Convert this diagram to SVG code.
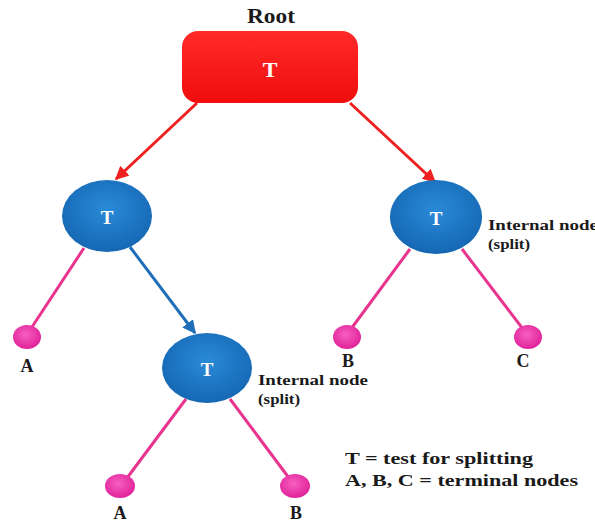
<svg xmlns="http://www.w3.org/2000/svg" width="595" height="522" viewBox="0 0 595 522">
<defs>
<radialGradient id="gBlue" cx="50%" cy="40%" r="60%">
<stop offset="0" stop-color="#2a8ad8"/><stop offset="1" stop-color="#1567b3"/>
</radialGradient>
<radialGradient id="gPink" cx="45%" cy="40%" r="60%">
<stop offset="0" stop-color="#f75fbf"/><stop offset="1" stop-color="#e0229a"/>
</radialGradient>
<linearGradient id="gRed" x1="0" y1="0" x2="0" y2="1">
<stop offset="0" stop-color="#ff2a2a"/><stop offset="1" stop-color="#f00d0d"/>
</linearGradient>
<marker id="arrRed" viewBox="0 0 10 10" refX="9" refY="5" markerWidth="4.5" markerHeight="4.5" orient="auto">
<path d="M0,0 L10,5 L0,10 z" fill="#ee2020"/>
</marker>
<marker id="arrBlue" viewBox="0 0 10 10" refX="9" refY="5" markerWidth="4.5" markerHeight="4.5" orient="auto">
<path d="M0,0 L10,5 L0,10 z" fill="#1f6fb8"/>
</marker>
</defs>
<style>
.lbl{font-family:"Liberation Serif",serif;font-weight:bold;fill:#1a1a1a}
.t{font-family:"Liberation Serif",serif;font-weight:bold;fill:#ffffff;text-anchor:middle}
.pink{stroke:#e8338f;stroke-width:3;fill:none}
.red{stroke:#ee2020;stroke-width:3;fill:none;marker-end:url(#arrRed)}
.blue{stroke:#1f6fb8;stroke-width:3;fill:none;marker-end:url(#arrBlue)}
.node{fill:url(#gBlue)}
.leaf{fill:url(#gPink)}
</style>
<g id="connectors">
<line class="red" x1="197" y1="103" x2="116" y2="179"/>
<line class="red" x1="350" y1="103" x2="435" y2="182"/>
<line class="blue" x1="130" y1="247" x2="195" y2="333"/>
<line class="pink" x1="84" y1="248" x2="30" y2="330"/>
<line class="pink" x1="410" y1="249" x2="348" y2="333"/>
<line class="pink" x1="462" y1="249" x2="526" y2="333"/>
<line class="pink" x1="186" y1="399" x2="124" y2="482"/>
<line class="pink" x1="230" y1="399" x2="292" y2="482"/>
</g>
<g id="root">
<text class="lbl" x="247" y="23" font-size="21" textLength="48" lengthAdjust="spacingAndGlyphs">Root</text>
<rect x="182" y="31" width="176" height="72" rx="16" fill="url(#gRed)"/>
<text class="t" x="270" y="77" font-size="22">T</text>
</g>
<g id="node-left">
<ellipse class="node" cx="107" cy="216" rx="45" ry="36"/>
<text class="t" x="107" y="224" font-size="19">T</text>
</g>
<g id="node-right">
<ellipse class="node" cx="436" cy="217" rx="46" ry="37"/>
<text class="t" x="436" y="225" font-size="19">T</text>
<text class="lbl" x="488" y="230" font-size="15" textLength="110" lengthAdjust="spacingAndGlyphs">Internal node</text>
<text class="lbl" x="488" y="249" font-size="15" textLength="42" lengthAdjust="spacingAndGlyphs">(split)</text>
</g>
<g id="node-mid">
<ellipse class="node" cx="207" cy="368" rx="45" ry="35"/>
<text class="t" x="207" y="376" font-size="19">T</text>
<text class="lbl" x="258" y="385" font-size="15" textLength="110" lengthAdjust="spacingAndGlyphs">Internal node</text>
<text class="lbl" x="258" y="404" font-size="15" textLength="42" lengthAdjust="spacingAndGlyphs">(split)</text>
</g>
<g id="leaf-a1">
<ellipse class="leaf" cx="27" cy="337" rx="14" ry="12"/>
<text class="lbl" x="27" y="372" font-size="18" text-anchor="middle">A</text>
</g>
<g id="leaf-b1">
<ellipse class="leaf" cx="347" cy="337" rx="14" ry="12"/>
<text class="lbl" x="348" y="367" font-size="18" text-anchor="middle">B</text>
</g>
<g id="leaf-c">
<ellipse class="leaf" cx="528" cy="337" rx="14" ry="12"/>
<text class="lbl" x="523" y="367" font-size="18" text-anchor="middle">C</text>
</g>
<g id="leaf-a2">
<ellipse class="leaf" cx="120" cy="486" rx="15" ry="12"/>
<text class="lbl" x="120" y="519" font-size="18" text-anchor="middle">A</text>
</g>
<g id="leaf-b2">
<ellipse class="leaf" cx="295" cy="486" rx="15" ry="12"/>
<text class="lbl" x="296" y="519" font-size="18" text-anchor="middle">B</text>
</g>
<g id="legend">
<text class="lbl" x="345" y="464" font-size="17" textLength="188" lengthAdjust="spacingAndGlyphs">T = test for splitting</text>
<text class="lbl" x="345" y="486" font-size="17" textLength="233" lengthAdjust="spacingAndGlyphs">A, B, C = terminal nodes</text>
</g>
</svg>
